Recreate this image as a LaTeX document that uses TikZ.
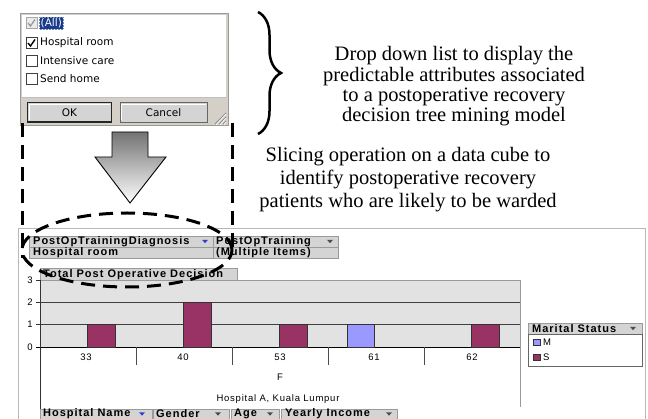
\documentclass[tikz,border=0pt]{standalone}
\usepackage{fontspec}
\setmainfont{Liberation Serif}
\newfontfamily\uifont{DejaVu Sans}
\newfontfamily\fieldfont{Liberation Sans}[LetterSpace=9]
\newfontfamily\xlfont{Liberation Sans}[LetterSpace=8]
\usetikzlibrary{decorations.pathreplacing}

\definecolor{winface}{HTML}{D4D0C8}
\definecolor{fieldgray}{HTML}{D4D4D4}
\definecolor{plotgray}{HTML}{E2E2E2}
\definecolor{barS}{HTML}{993366}
\definecolor{barM}{HTML}{9999FF}
\definecolor{selblue}{HTML}{1A3A8A}
\definecolor{arrowblue}{HTML}{3A3AD0}
\definecolor{framegray}{HTML}{9A9A9A}

\begin{document}
\begin{tikzpicture}[x=1pt,y=-1pt,
  listtext/.style={anchor=west, inner sep=0pt, font=\uifont\fontsize{10.5}{11}\selectfont},
  btntext/.style={inner sep=0pt, font=\uifont\fontsize{10.5}{11}\selectfont},
  fieldtext/.style={anchor=west, inner sep=0pt, font=\fieldfont\bfseries\fontsize{11}{11}\selectfont},
  smalltext/.style={inner sep=0pt, font=\xlfont\fontsize{9.5}{10}\selectfont},
  desc/.style={align=center, inner sep=0pt},
  fieldbox/.style={fill=fieldgray, draw=framegray, line width=0.6pt},
  chkbox/.style={fill=white, draw=black!75, line width=0.6pt},
  bar/.style={draw=black!80, line width=0.5pt},
  gridline/.style={draw=black!75, line width=0.6pt},
  bigdash/.style={line width=3pt, dash pattern=on 14pt off 8pt},
  ddarrow/.pic={\fill[pic actions] (-3,-1.6) -- (3,-1.6) -- (0,1.6) -- cycle;}
]
\useasboundingbox (0,0) rectangle (648,419);
\fill[white] (0,0) rectangle (648,419);

% ---------- filter drop-down dialog ----------
\fill[winface] (20,13) rectangle (228,125);
\fill[white] (22,15) rectangle (226,97);
\draw[framegray, line width=0.8pt] (20,13) rectangle (228,125);
\draw[black!25, line width=0.6pt] (22,97) -- (226,97);

% list entries with their check boxes
\draw[fill=black!8, draw=black!35, line width=0.6pt] (26,17.5) rectangle (37,28.5);
\draw[black!40, line width=1.3pt] (28,23) -- (30.5,26) -- (35,19.5);
\node[listtext, fill=selblue, text=white, inner sep=1pt] (all) at (39.5,23) {(All)};
\draw[selblue!60, densely dotted, line width=0.5pt] (all.north west) rectangle (all.south east);

\draw[chkbox] (26,37.5) rectangle (37,48.5);
\draw[black, line width=1.4pt] (28,43) -- (30.5,46) -- (35,39.5);
\node[listtext] (room) at (40,43) {Hospital room};

\draw[chkbox] (26,55.5) rectangle (37,66.5);
\node[listtext] (icare) at (40,61) {Intensive care};

\draw[chkbox] (26,73.5) rectangle (37,84.5);
\node[listtext] (home) at (40,79) {Send home};

% buttons
\draw[fill=fieldgray, draw=black!85, line width=1.4pt] (27.5,102.5) rectangle (111.5,122);
\draw[white, line width=0.6pt] (29.5,120) -- (29.5,104.5) -- (109.5,104.5);
\node[btntext] (ok) at (69.5,112.3) {OK};
\draw[fill=fieldgray, draw=black!60, line width=0.8pt] (120,102.5) rectangle (207,122);
\draw[white, line width=0.6pt] (121.5,120.5) -- (121.5,104) -- (205.5,104);
\node[btntext] (cancel) at (163.5,112.3) {Cancel};

% size grip
\foreach \d in {3,7,11}{
  \draw[black!45, line width=0.8pt] (226,124-\d) -- (226-\d,124);
  \draw[white, line width=0.6pt] (226,125-\d) -- (227-\d,125);
}

% ---------- brace and its description ----------
\draw[decorate, decoration={brace, amplitude=23pt}, line width=2.5pt]
  (258,12) -- (258,134);
\node[desc, font=\fontsize{20.5}{20.4}\selectfont] (dropdesc) at (454,86.5)
  {Drop down list to display the\\
   predictable attributes associated\\
   to a postoperative recovery\\
   decision tree mining model};
\node[desc, font=\fontsize{20.5}{23}\selectfont] (slicedesc) at (408,179.5)
  {Slicing operation on a data cube to\\
   identify postoperative recovery\\
   patients who are likely to be warded};

% ---------- downward block arrow ----------
\shadedraw[top color=black!55, bottom color=white, draw=black, line width=0.9pt]
  (112,132) -- (148,132) -- (148,157) -- (166,157) -- (130,203)
  -- (95,157) -- (112,157) -- cycle;

% ---------- pivot chart ----------
\draw[framegray!70, line width=0.7pt] (18,440) -- (18,228) -- (645,228) -- (645,440);

% page fields
\draw[fieldbox] (29,236) rectangle (213,247);
\draw[fieldbox] (213,236) rectangle (338,247);
\draw[fieldbox] (29,247) rectangle (213,258);
\draw[fieldbox] (213,247) rectangle (338,258);
\node[fieldtext] (fdiag) at (33,241.7) {PostOpTrainingDiagnosis};
\pic[fill=arrowblue] at (205,241.5) {ddarrow};
\node[fieldtext] (ftrain) at (216,241.7) {PostOpTraining};
\pic[fill=black!70] at (330,241.5) {ddarrow};
\node[fieldtext] (vroom) at (33,252.7) {Hospital room};
\node[fieldtext] (vmulti) at (216,252.7) {(Multiple Items)};

% data field
\draw[fieldbox] (40,268) rectangle (237,280);
\node[fieldtext] (fdata) at (43,274.2) {Total Post Operative Decision};

% plot area
\fill[plotgray] (40,280) rectangle (520,347);
\draw[framegray, line width=0.7pt] (40,280) -- (520,280) -- (520,407);
\draw[gridline] (40,302.33) -- (520,302.33);
\draw[gridline] (40,324.67) -- (520,324.67);
\draw[black, line width=0.8pt] (36,347) -- (520,347);
\draw[black!80, line width=0.8pt] (40,280) -- (40,413);
\foreach \yv in {280,302.33,324.67}{
  \draw[black!80, line width=0.6pt] (36,\yv) -- (40,\yv);
}
\node[smalltext] (y3) at (30,280) {3};
\node[smalltext] (y2) at (30,302.33) {2};
\node[smalltext] (y1) at (30,324.67) {1};
\node[smalltext] (y0) at (30,347) {0};

% category dividers and labels
\foreach \xv in {136,232,328,424}{
  \draw[black!70, line width=0.8pt] (\xv,347) -- (\xv,365);
}
\node[smalltext] (c33) at (86,357) {33};
\node[smalltext] (c40) at (183,357) {40};
\node[smalltext] (c53) at (280,357) {53};
\node[smalltext] (c61) at (374,357) {61};
\node[smalltext] (c62) at (472,357) {62};
\node[smalltext] (gF) at (280,377) {F};
\node[smalltext] (hosp) at (278,399) {Hospital A, Kuala Lumpur};

% bars
\draw[bar, fill=barS] (87,324.67) rectangle (115,347);
\draw[bar, fill=barS] (183,302.33) rectangle (211,347);
\draw[bar, fill=barS] (279,324.67) rectangle (307,347);
\draw[bar, fill=barM] (347,324.67) rectangle (374,347);
\draw[bar, fill=barS] (471,324.67) rectangle (499,347);

% legend
\draw[fieldbox] (528,323) rectangle (642,334);
\node[fieldtext] (fmar) at (532,328.7) {Marital Status};
\pic[fill=black!70] at (633,328.5) {ddarrow};
\draw[fill=white, draw=black!60, line width=0.7pt] (528,334) rectangle (642,366);
\draw[fill=barM, draw=black!80, line width=0.5pt] (533,339) rectangle (540,345);
\node[smalltext, anchor=west] (lm) at (543,342) {M};
\draw[fill=barS, draw=black!80, line width=0.5pt] (533,354) rectangle (540,360);
\node[smalltext, anchor=west] (ls) at (543,357) {S};

% row fields
\draw[fieldbox] (40,409) rectangle (152,425);
\node[fieldtext] (fhosp) at (43,413.8) {Hospital Name};
\pic[fill=arrowblue] at (142,414) {ddarrow};
\draw[fieldbox] (153,409) rectangle (229,425);
\node[fieldtext] (fgender) at (156,413.8) {Gender};
\pic[fill=black!70] at (218,414) {ddarrow};
\draw[fieldbox] (231,409) rectangle (279,425);
\node[fieldtext] (fage) at (234,413.8) {Age};
\pic[fill=black!70] at (270,414) {ddarrow};
\draw[fieldbox] (281,409) rectangle (397,425);
\node[fieldtext] (fincome) at (285,413.8) {Yearly Income};
\pic[fill=black!70] at (389,414) {ddarrow};

% ---------- dashed selection marks ----------
\draw[bigdash] (22,123) -- (22,258);
\draw[bigdash] (232,123) -- (232,250);
\draw[bigdash] (127,250) ellipse [x radius=105pt, y radius=37pt];
\end{tikzpicture}
\end{document}
